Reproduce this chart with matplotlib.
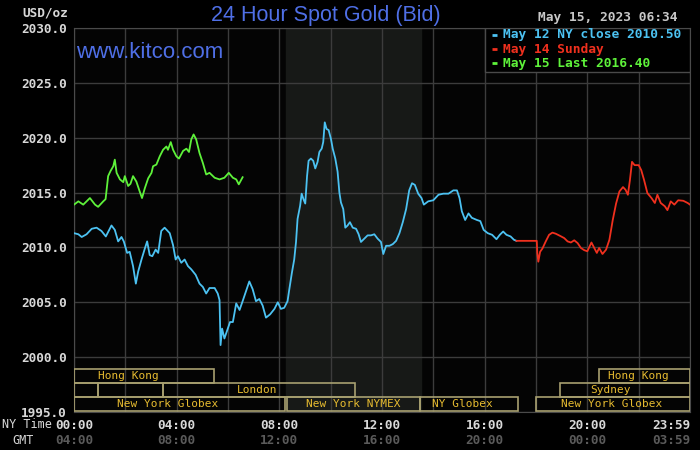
#! /usr/bin/env python3

import matplotlib
matplotlib.use("Agg")
import matplotlib.pyplot as plt
from matplotlib.patches import Rectangle

# hours (NY time) and bid prices
may12_h = [0, .17, .30, .49, .69, .88, 1.07, 1.24, 1.46, 1.59, 1.72, 1.85, 1.94, 2.07, 2.17,
           2.30, 2.41, 2.50, 2.63, 2.76, 2.85, 2.95, 3.05, 3.18, 3.28, 3.40, 3.53, 3.73, 3.86,
           3.96, 4.05, 4.18, 4.31, 4.44, 4.57, 4.74, 4.89, 5.02, 5.15, 5.28, 5.48, 5.60, 5.67,
           5.71, 5.77, 5.86, 5.99, 6.08, 6.19, 6.32, 6.45, 6.57, 6.70, 6.83, 6.96, 7.09, 7.22,
           7.35, 7.48, 7.64, 7.81, 7.94, 8.06, 8.19, 8.32, 8.39, 8.49, 8.58, 8.65, 8.71, 8.81,
           8.87, 8.94, 9.01, 9.08, 9.14, 9.23, 9.32, 9.40, 9.49, 9.56, 9.65, 9.71, 9.77, 9.84,
           9.92, 10.01, 10.08, 10.18, 10.27, 10.34, 10.40, 10.49, 10.57, 10.66, 10.75, 10.86,
           10.99, 11.09, 11.18, 11.31, 11.44, 11.57, 11.70, 11.83, 11.96, 12.05, 12.16, 12.29,
           12.42, 12.55, 12.68, 12.81, 12.94, 13.06, 13.17, 13.28, 13.41, 13.54, 13.63, 13.80,
           14.00, 14.20, 14.39, 14.59, 14.78, 14.92, 15.02, 15.11, 15.24, 15.37, 15.50, 15.70,
           15.83, 15.96, 16.12, 16.29, 16.46, 16.59, 16.72, 16.85, 17.01, 17.14, 17.24]
may12_v = [2011.3, 2011.2, 2010.95, 2011.2, 2011.7, 2011.8, 2011.5, 2011.0, 2012.0, 2011.6,
           2010.55, 2010.95, 2010.55, 2009.5, 2009.6, 2008.3, 2006.7, 2007.8, 2008.9, 2009.9,
           2010.55, 2009.3, 2009.2, 2009.8, 2009.5, 2011.5, 2011.8, 2011.3, 2010.2, 2008.9,
           2009.2, 2008.6, 2008.9, 2008.3, 2008.0, 2007.5, 2006.7, 2006.4, 2005.8, 2006.3,
           2006.3, 2005.8, 2005.2, 2001.1, 2002.6, 2001.7, 2002.6, 2003.2, 2003.2, 2004.9,
           2004.3, 2005.1, 2006.0, 2006.9, 2006.2, 2005.1, 2005.3, 2004.7, 2003.6, 2003.9,
           2004.4, 2005.0, 2004.4, 2004.5, 2005.1, 2006.2, 2007.7, 2008.9, 2010.5, 2012.6,
           2013.8, 2014.9, 2014.4, 2014.0, 2016.5, 2017.9, 2018.1, 2017.9, 2017.2, 2017.8,
           2018.7, 2019.0, 2019.6, 2021.4, 2020.8, 2020.7, 2019.9, 2019.0, 2018.1, 2016.9,
           2015.0, 2014.1, 2013.5, 2011.8, 2012.0, 2012.3, 2011.8, 2011.7, 2011.2, 2010.5,
           2010.8, 2011.1, 2011.1, 2011.2, 2010.8, 2010.5, 2009.4, 2010.15, 2010.15, 2010.3,
           2010.6, 2011.3, 2012.3, 2013.5, 2015.2, 2015.85, 2015.7, 2014.9, 2014.5, 2013.9,
           2014.2, 2014.3, 2014.8, 2014.9, 2014.9, 2015.2, 2015.2, 2014.5, 2013.3, 2012.5,
           2013.1, 2012.7, 2012.5, 2012.4, 2011.6, 2011.3, 2011.15, 2010.75, 2011.15, 2011.45,
           2011.15, 2011.0, 2010.7, 2010.6]

may14_h = [17.24, 18.03, 18.05, 18.09, 18.16, 18.25, 18.38, 18.51, 18.64, 18.77, 18.94, 19.10,
           19.23, 19.36, 19.49, 19.62, 19.75, 19.88, 20.00, 20.16, 20.27, 20.37, 20.46, 20.59,
           20.73, 20.86, 20.99, 21.12, 21.25, 21.39, 21.49, 21.58, 21.66, 21.74, 21.84, 22.00,
           22.10, 22.21, 22.34, 22.50, 22.63, 22.73, 22.86, 23.02, 23.12, 23.25, 23.39, 23.54,
           23.74, 23.91, 24.0]
may14_v = [2010.6, 2010.6, 2009.5, 2008.7, 2009.6, 2009.9, 2010.55, 2011.15, 2011.35, 2011.25,
           2011.05, 2010.85, 2010.55, 2010.45, 2010.65, 2010.4, 2009.95, 2009.75, 2009.65,
           2010.45, 2009.95, 2009.5, 2009.95, 2009.4, 2009.8, 2010.7, 2012.5, 2014.0, 2015.1,
           2015.5, 2015.25, 2014.8, 2016.15, 2017.8, 2017.5, 2017.5, 2017.05, 2016.15, 2014.95,
           2014.5, 2014.05, 2014.8, 2014.05, 2013.75, 2013.4, 2014.2, 2013.9, 2014.3, 2014.25,
           2014.05, 2013.9]

may15_h = [0, .17, .36, .62, .82, .94, 1.14, 1.23, 1.33, 1.42, 1.53, 1.59, 1.66, 1.79, 1.92,
           1.98, 2.11, 2.20, 2.30, 2.43, 2.56, 2.65, 2.76, 2.89, 3.02, 3.08, 3.21, 3.34, 3.47,
           3.60, 3.66, 3.77, 3.86, 3.99, 4.09, 4.25, 4.38, 4.48, 4.57, 4.66, 4.76, 4.89, 5.02,
           5.15, 5.28, 5.48, 5.67, 5.86, 6.03, 6.19, 6.32, 6.42, 6.57]
may15_v = [2013.9, 2014.2, 2013.9, 2014.5, 2013.9, 2013.7, 2014.2, 2014.4, 2016.5, 2016.95,
           2017.4, 2018.0, 2016.8, 2016.2, 2015.95, 2016.5, 2015.6, 2015.8, 2016.5, 2016.0,
           2015.1, 2014.5, 2015.4, 2016.3, 2016.8, 2017.4, 2017.55, 2018.3, 2018.9, 2019.2,
           2018.9, 2019.6, 2018.9, 2018.3, 2018.1, 2018.8, 2019.0, 2018.7, 2019.85, 2020.3,
           2019.85, 2018.6, 2017.7, 2016.65, 2016.8, 2016.35, 2016.2, 2016.35, 2016.8, 2016.35,
           2016.2, 2015.75, 2016.4]

series_labels = ["May 12 NY close 2010.50", "May 14 Sunday", "May 15 Last 2016.40"]

# trading sessions: (row, start hour, end hour, label, label hour)
sessions = [
    (0, 0, 5.45, "Hong Kong", 2.1),
    (0, 20.45, 24, "Hong Kong", 22.0),
    (1, 0, 0.93, "", 0),
    (1, 0.93, 3.47, "", 0),
    (1, 3.47, 10.95, "London", 7.13),
    (1, 18.93, 24, "Sydney", 20.9),
    (2, 0, 8.22, "New York Globex", 3.63),
    (2, 8.28, 13.47, "New York NYMEX", 10.87),
    (2, 13.5, 17.3, "NY Globex", 15.15),
    (2, 18.0, 24, "New York Globex", 20.95),
]
nymex_open, nymex_close = 8.25, 13.5

x_ticks = [0, 4, 8, 12, 16, 20, 24]
ny_labels = ["00:00", "04:00", "08:00", "12:00", "16:00", "20:00", "23:59"]
gmt_labels = ["04:00", "08:00", "12:00", "16:00", "20:00", "00:00", "03:59"]

blue = "#4cc2f2"
red = "#f0301e"
green = "#5ef23a"
kitco = "#4f6fe6"
mono = "DejaVu Sans Mono"

fig = plt.figure(figsize=(7, 4.5), dpi=100, facecolor="black")
ax = fig.add_axes([74 / 700, 38 / 450, 616 / 700, 384 / 450], facecolor="#040404")

ax.axvspan(nymex_open, nymex_close, color="#171917", zorder=0)
for h in range(0, 25, 2):
    ax.axvline(h, color="#3c3c3c", lw=1, zorder=1)
for v in range(1995, 2031, 5):
    ax.axhline(v, color="#3c3c3c", lw=1, zorder=1)

colors = [blue, red, green]
ax.plot(may12_h, may12_v, color=blue, lw=1.3, zorder=4)
ax.plot(may14_h, may14_v, color=red, lw=1.3, zorder=4)
ax.plot(may15_h, may15_v, color=green, lw=1.3, zorder=4)

row_top = [1998.9, 1997.63, 1996.35]
row_h = 1.25
for row, start, end, name, lh in sessions:
    y0 = row_top[row] - row_h
    ax.add_patch(Rectangle((start, y0), end - start, row_h, fill=False,
                           edgecolor="#a8a070", lw=1.2, zorder=3))
    if name:
        ax.text(lh, y0 + row_h / 2, name, color="#e6bb30", fontsize=8, family=mono,
                ha="center", va="center", zorder=5)

ax.set_xlim(0, 24)
ax.set_ylim(1995, 2030)
ax.set_xticks([])
ax.set_yticks(range(1995, 2031, 5))
ax.set_yticklabels(["%.1f" % v for v in range(1995, 2031, 5)], family=mono,
                   fontweight="bold", fontsize=9.2, color="#d8d8d8")
ax.tick_params(axis="y", length=0, pad=5)
for s in ax.spines.values():
    s.set_color("#4a4a4a")

for h, ny, gmt in zip(x_ticks, ny_labels, gmt_labels):
    ha = "right" if h == 24 else "center"
    ax.text(h, -0.035, ny, transform=ax.get_xaxis_transform(), ha=ha, va="center",
            family=mono, fontweight="bold", fontsize=9.2, color="#d8d8d8")
    ax.text(h, -0.075, gmt, transform=ax.get_xaxis_transform(), ha=ha, va="center",
            family=mono, fontweight="bold", fontsize=9.2, color="#5a5a5a")
fig.text(2 / 700, 1 - 425 / 450, "NY Time", family=mono, fontsize=8.5, color="#d8d8d8",
         va="center")
fig.text(12 / 700, 1 - 440 / 450, "GMT", family=mono, fontsize=8.5, color="#d8d8d8",
         va="center")

fig.text(22 / 700, 1 - 13 / 450, "USD/oz", family=mono, fontweight="bold", fontsize=9.2,
         color="#d8d8d8", va="center")
fig.text(326 / 700, 1 - 15 / 450, "24 Hour Spot Gold (Bid)", fontsize=15.5, color=kitco,
         ha="center", va="center", family="Liberation Sans")
fig.text(677 / 700, 1 - 18 / 450, "May 15, 2023 06:34", family=mono, fontweight="bold",
         fontsize=9.3, color="#c8c8c8", ha="right", va="center")
ax.text(0.004, 0.935, "www.kitco.com", transform=ax.transAxes, fontsize=16, color=kitco,
        va="center", family="Liberation Sans", zorder=5)

# legend box, top right inside the plot
ax.add_patch(Rectangle((0.667, 0.886), 0.333, 0.114, transform=ax.transAxes,
                       facecolor="black", edgecolor="#4a4a4a", lw=1, zorder=6))
for i, (lab, c) in enumerate(zip(series_labels, colors)):
    yy = 0.9818 - i * 0.0365
    ax.plot([0.6786, 0.6867], [yy, yy], transform=ax.transAxes, color=c, lw=2,
            solid_capstyle="butt", zorder=7)
    ax.text(0.6964, yy, lab, transform=ax.transAxes, color=c, family=mono,
            fontweight="bold", fontsize=9.3, va="center", zorder=7)

fig.savefig("out.png", dpi=100, facecolor="black")
